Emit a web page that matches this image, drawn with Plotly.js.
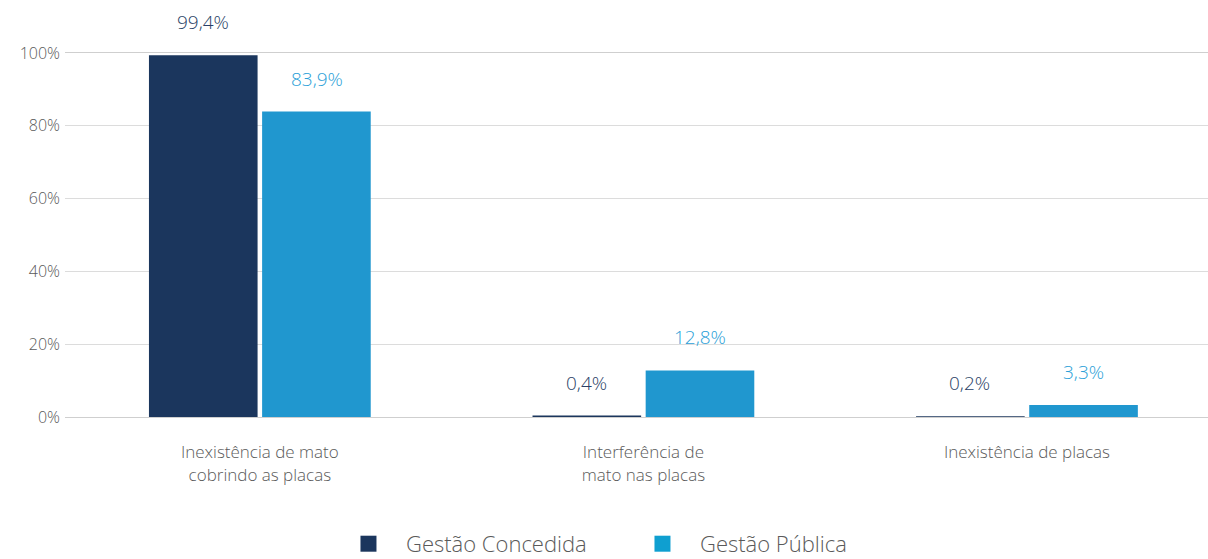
<!DOCTYPE html>
<html><head><meta charset="utf-8">
<script src="https://cdn.plot.ly/plotly-3.0.1.min.js"></script>
<style>html,body{margin:0;padding:0;background:#fff}#chart{width:1208px;height:559px}</style>
</head><body><div id="chart"></div>
<script>
const categories = ["Inexistência de mato<br>cobrindo as placas", "Interferência de<br>mato nas placas", "Inexistência de placas"];
const seriesNames = ["Gestão Concedida", "Gestão Pública"];
const concedida = [99.4, 0.4, 0.2];
const publica = [83.9, 12.8, 3.3];
const yTicks = [0, 20, 40, 60, 80, 100];
const yTickText = ["0%", "20%", "40%", "60%", "80%", "100%"];
const colors = ["#1b365d", "#2097cf"];
const labelColors = ["#2a3f66", "#2c9fd8"];
const legendColors = ["#1b365d", "#0f9fd0"];

const FONT = '"Open Sans", sans-serif';
const fmt = v => v.toFixed(1).replace('.', ',') + '%';
const series = [concedida, publica];

const traces = series.map((vals, i) => ({
  type: 'bar', x: categories, y: vals, name: seriesNames[i],
  marker: {color: colors[i]}, showlegend: false, hoverinfo: 'skip'
}));
// legend-only entries
seriesNames.forEach((n, i) => traces.push({
  type: 'scatter', mode: 'markers', x: [null], y: [null], name: n,
  marker: {symbol: 'square', size: 18, color: legendColors[i]}, showlegend: true
}));

const annotations = [];
series.forEach((vals, i) => vals.forEach((v, j) => annotations.push({
  x: categories[j], y: v, xref: 'x', yref: 'y', text: fmt(v), showarrow: false,
  xshift: i === 0 ? -57 : 57, yshift: 33, yanchor: 'middle',
  font: {size: 19, color: labelColors[i], family: FONT, weight: 300}
})));

const layout = {
  width: 1208, height: 559,
  margin: {l: 65, r: 0, t: 53, b: 142, autoexpand: false},
  paper_bgcolor: '#fff', plot_bgcolor: '#fff',
  font: {family: FONT, color: '#5a5a5a', weight: 300},
  barmode: 'group', bargap: 0.41, bargroupgap: 0.04,
  xaxis: {
    range: [-0.508, 2.472], showgrid: false, zeroline: false,
    showline: true, mirror: true, linecolor: '#cfcfcf', linewidth: 1,
    ticks: '', ticklabelstandoff: 20, tickfont: {size: 17, color: '#5a5a5a', family: FONT, weight: 300}
  },
  yaxis: {
    range: [0, 100], tickmode: 'array', tickvals: yTicks, ticktext: yTickText,
    showgrid: true, gridcolor: '#dcdcdc', gridwidth: 1, zeroline: false,
    ticks: '', ticklabelstandoff: 4, tickfont: {size: 16, color: '#5a5a5a', family: FONT, weight: 300}
  },
  legend: {
    orientation: 'h', x: 0.2327, xanchor: 'left', yref: 'container', y: 0.027, yanchor: 'middle',
    font: {size: 22, color: '#5a5a5a', family: FONT, weight: 300},
    itemwidth: 65, entrywidth: 214, entrywidthmode: 'pixels',
    itemclick: false
  },
  annotations: annotations,
  showlegend: true
};

Plotly.newPlot('chart', traces, layout, {displayModeBar: false, staticPlot: true});
</script></body></html>
